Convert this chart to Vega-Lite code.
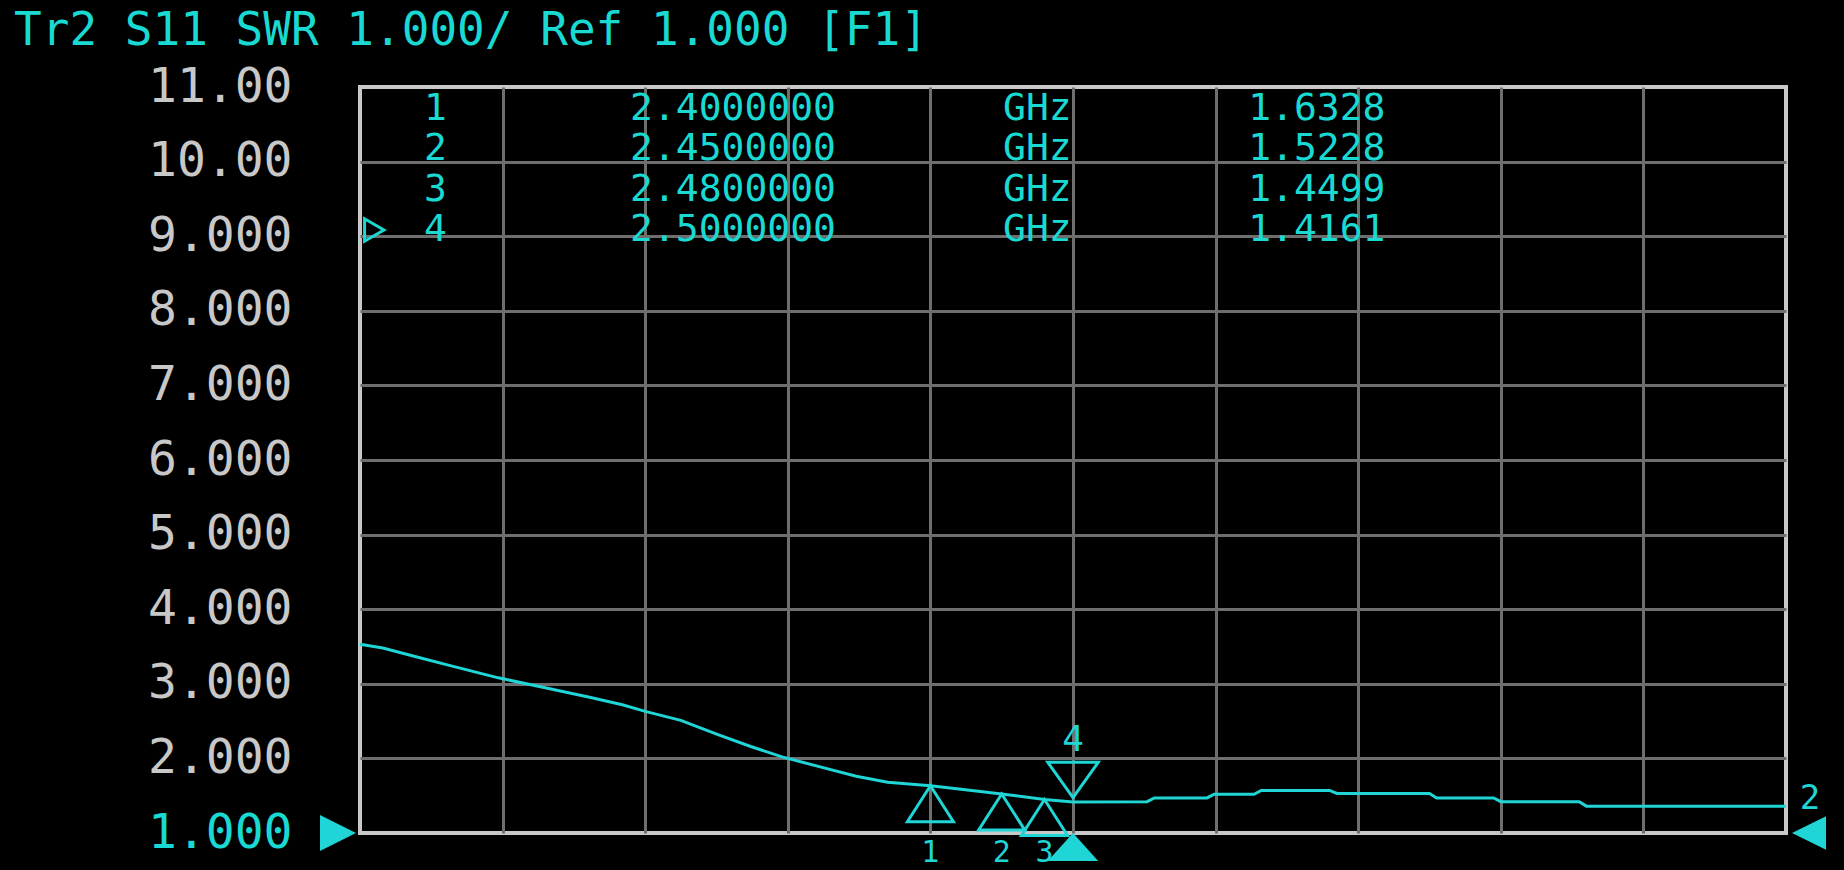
{
  "$schema": "https://vega.github.io/schema/vega-lite/v6.json",
  "width": 1426,
  "height": 746,
  "autosize": {"type": "none"},
  "padding": {"left": 360, "top": 87, "right": 58, "bottom": 37},
  "background": "#000000",
  "config": {
    "view": {"stroke": "#c8c8c8", "strokeWidth": 4},
    "font": "DejaVu Sans Mono"
  },
  "datasets": {
    "trace": [
      {"freq": 2.000, "swr": 3.53}, {"freq": 2.016, "swr": 3.48}, {"freq": 2.042, "swr": 3.35},
      {"freq": 2.064, "swr": 3.24}, {"freq": 2.097, "swr": 3.08}, {"freq": 2.129, "swr": 2.95},
      {"freq": 2.161, "swr": 2.82}, {"freq": 2.184, "swr": 2.72}, {"freq": 2.200, "swr": 2.63},
      {"freq": 2.225, "swr": 2.51}, {"freq": 2.251, "swr": 2.32}, {"freq": 2.274, "swr": 2.16},
      {"freq": 2.296, "swr": 2.02}, {"freq": 2.322, "swr": 1.89}, {"freq": 2.348, "swr": 1.76},
      {"freq": 2.370, "swr": 1.68}, {"freq": 2.400, "swr": 1.6328}, {"freq": 2.420, "swr": 1.59},
      {"freq": 2.450, "swr": 1.5228}, {"freq": 2.480, "swr": 1.4499}, {"freq": 2.500, "swr": 1.4161},
      {"freq": 2.552, "swr": 1.42}, {"freq": 2.557, "swr": 1.47}, {"freq": 2.594, "swr": 1.47},
      {"freq": 2.599, "swr": 1.52}, {"freq": 2.627, "swr": 1.52}, {"freq": 2.632, "swr": 1.57},
      {"freq": 2.680, "swr": 1.57}, {"freq": 2.685, "swr": 1.53}, {"freq": 2.750, "swr": 1.53},
      {"freq": 2.755, "swr": 1.47}, {"freq": 2.795, "swr": 1.47}, {"freq": 2.800, "swr": 1.42},
      {"freq": 2.855, "swr": 1.42}, {"freq": 2.860, "swr": 1.36}, {"freq": 3.000, "swr": 1.36}
    ],
    "markers": [
      {"marker": 1, "freq": 2.40, "value": 1.6328, "unit": "GHz", "active": false},
      {"marker": 2, "freq": 2.45, "value": 1.5228, "unit": "GHz", "active": false},
      {"marker": 3, "freq": 2.48, "value": 1.4499, "unit": "GHz", "active": false},
      {"marker": 4, "freq": 2.50, "value": 1.4161, "unit": "GHz", "active": true}
    ],
    "ref": [
      {"trace": 2, "ref": 1.0}
    ]
  },
  "resolve": {"scale": {"y": "independent"}},
  "layer": [
    {
      "layer": [
        {
          "data": {"name": "trace"},
          "mark": {"type": "line", "color": "#1fd5d5", "strokeWidth": 3},
          "encoding": {
            "x": {
              "field": "freq", "type": "quantitative",
              "scale": {"domain": [2.0, 3.0], "nice": false, "zero": false},
              "axis": {
                "values": [2.0, 2.1, 2.2, 2.3, 2.4, 2.5, 2.6, 2.7, 2.8, 2.9, 3.0],
                "grid": true,
                "gridColor": {"condition": {"test": "datum.value <= 2.001 || datum.value >= 2.999", "value": "transparent"}, "value": "#6e6e6e"},
                "gridWidth": 3,
                "labels": false, "ticks": false, "domain": false, "title": null
              }
            },
            "y": {
              "field": "swr", "type": "quantitative",
              "scale": {"domain": [1, 11], "nice": false, "zero": false},
              "axis": {
                "values": [1, 2, 3, 4, 5, 6, 7, 8, 9, 10, 11],
                "grid": true,
                "gridColor": {"condition": {"test": "datum.value == 1 || datum.value == 11", "value": "transparent"}, "value": "#6e6e6e"},
                "gridWidth": 3,
                "labelExpr": "datum.value >= 10 ? format(datum.value, '.2f') : format(datum.value, '.3f')",
                "labelColor": {"condition": {"test": "datum.value == 1", "value": "#19d9d2"}, "value": "#c8c8c8"},
                "labelFont": "DejaVu Sans Mono",
                "labelFontSize": 48,
                "labelPadding": 68,
                "labelOverlap": false,
                "labelBound": false,
                "labelFlush": false,
                "ticks": false, "domain": false, "title": null
              }
            }
          }
        },
        {
          "data": {"name": "ref"},
          "mark": {"type": "text", "text": "Tr2 S11 SWR 1.000/ Ref 1.000 [F1]", "font": "DejaVu Sans Mono", "fontSize": 46, "color": "#19d9d2", "align": "left", "baseline": "alphabetic", "dx": -346, "dy": -42},
          "encoding": {
            "x": {"datum": 2.0},
            "y": {"datum": 11}
          }
        },
        {
          "data": {"name": "markers"},
          "transform": [{"filter": "!datum.active"}],
          "mark": {"type": "point", "shape": "M0,0L-0.64,1L0.64,1Z", "size": 5184, "filled": false, "stroke": "#1fd5d5", "strokeWidth": 3, "opacity": 1},
          "encoding": {
            "x": {"field": "freq", "type": "quantitative"},
            "y": {"field": "value", "type": "quantitative"}
          }
        },
        {
          "data": {"name": "markers"},
          "transform": [{"filter": "!datum.active"}],
          "mark": {"type": "text", "font": "DejaVu Sans Mono", "fontSize": 30, "color": "#1fd5d5", "baseline": "middle", "dy": 20},
          "encoding": {
            "x": {"field": "freq", "type": "quantitative"},
            "y": {"datum": 1},
            "text": {"field": "marker"}
          }
        },
        {
          "data": {"name": "markers"},
          "transform": [{"filter": "datum.active"}],
          "mark": {"type": "point", "shape": "M0,-0.12L-0.7,-1.1L0.7,-1.1Z", "size": 5184, "filled": false, "stroke": "#1fd5d5", "strokeWidth": 3, "opacity": 1},
          "encoding": {
            "x": {"field": "freq", "type": "quantitative"},
            "y": {"field": "value", "type": "quantitative"}
          }
        },
        {
          "data": {"name": "markers"},
          "transform": [{"filter": "datum.active"}],
          "mark": {"type": "text", "font": "DejaVu Sans Mono", "fontSize": 36, "color": "#1fd5d5", "baseline": "middle", "dy": -62},
          "encoding": {
            "x": {"field": "freq", "type": "quantitative"},
            "y": {"field": "value", "type": "quantitative"},
            "text": {"field": "marker"}
          }
        },
        {
          "data": {"name": "markers"},
          "transform": [{"filter": "datum.active"}],
          "mark": {"type": "point", "shape": "M0,0L-0.9,1L0.9,1Z", "size": 3136, "filled": true, "color": "#1fd5d5", "opacity": 1},
          "encoding": {
            "x": {"field": "freq", "type": "quantitative"},
            "y": {"datum": 1}
          }
        },
        {
          "data": {"name": "ref"},
          "mark": {"type": "point", "shape": "M-0.1,0L-1,-0.45L-1,0.45Z", "size": 6400, "filled": true, "color": "#1fd5d5", "opacity": 1},
          "encoding": {
            "x": {"datum": 2.0},
            "y": {"field": "ref", "type": "quantitative"}
          }
        },
        {
          "data": {"name": "ref"},
          "mark": {"type": "point", "shape": "M0.15,0L1,-0.42L1,0.42Z", "size": 6400, "filled": true, "color": "#1fd5d5", "opacity": 1},
          "encoding": {
            "x": {"datum": 3.0},
            "y": {"field": "ref", "type": "quantitative"}
          }
        },
        {
          "data": {"name": "ref"},
          "mark": {"type": "text", "font": "DejaVu Sans Mono", "fontSize": 34, "color": "#1fd5d5", "baseline": "middle", "dx": 24, "dy": -34},
          "encoding": {
            "x": {"datum": 3.0},
            "y": {"field": "ref", "type": "quantitative"},
            "text": {"field": "trace"}
          }
        }
      ]
    },
    {
      "data": {"name": "markers"},
      "encoding": {
        "y": {"field": "marker", "type": "ordinal", "scale": {"type": "point", "domain": [1, 2, 3, 4], "range": [22, 143], "padding": 0}, "axis": null}
      },
      "layer": [
        {
          "mark": {"type": "text", "font": "DejaVu Sans Mono", "fontSize": 38, "color": "#19d9d2", "align": "right", "baseline": "middle"},
          "encoding": {"x": {"datum": 2.061}, "text": {"field": "marker"}}
        },
        {
          "mark": {"type": "text", "font": "DejaVu Sans Mono", "fontSize": 38, "color": "#19d9d2", "align": "center", "baseline": "middle"},
          "encoding": {"x": {"datum": 2.2616}, "text": {"field": "freq", "type": "quantitative", "format": ".7f"}}
        },
        {
          "mark": {"type": "text", "font": "DejaVu Sans Mono", "fontSize": 38, "color": "#19d9d2", "align": "center", "baseline": "middle"},
          "encoding": {"x": {"datum": 2.475}, "text": {"field": "unit"}}
        },
        {
          "mark": {"type": "text", "font": "DejaVu Sans Mono", "fontSize": 38, "color": "#19d9d2", "align": "center", "baseline": "middle"},
          "encoding": {"x": {"datum": 2.671}, "text": {"field": "value", "type": "quantitative", "format": ".4f"}}
        },
        {
          "transform": [{"filter": "datum.active"}],
          "mark": {"type": "point", "shape": "triangle-right", "size": 500, "filled": false, "stroke": "#19d9d2", "strokeWidth": 3, "opacity": 1},
          "encoding": {"x": {"datum": 2.01}}
        }
      ]
    }
  ]
}
